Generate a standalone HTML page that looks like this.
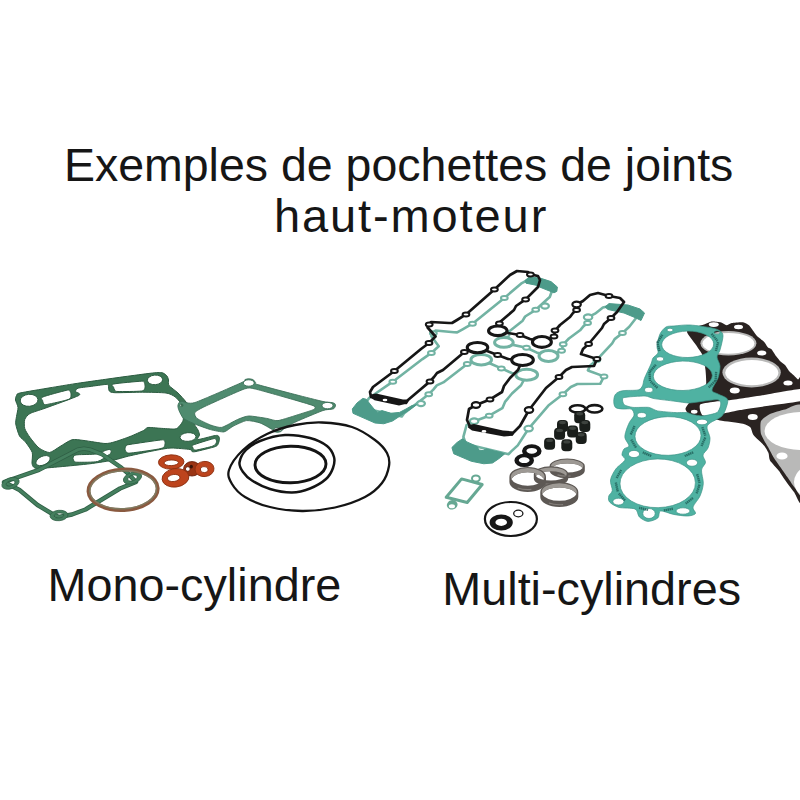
<!DOCTYPE html>
<html><head><meta charset="utf-8">
<style>
html,body{margin:0;padding:0;background:#fff;}
body{width:800px;height:800px;position:relative;overflow:hidden;font-family:"Liberation Sans",sans-serif;color:#161616;}
.t{position:absolute;white-space:nowrap;line-height:1;}
#l1{left:63.9px;top:141.6px;font-size:46.5px;}
#l2{left:273.9px;top:191.6px;font-size:47px;letter-spacing:1.9px;}
#m1{left:47.6px;top:561.5px;font-size:46.75px;}
#m2{left:442.3px;top:565.5px;font-size:46.75px;}
svg{position:absolute;left:0;top:0;}
</style></head><body>
<div class="t" id="l1">Exemples de pochettes de joints</div>
<div class="t" id="l2">haut-moteur</div>
<div class="t" id="m1">Mono-cylindre</div>
<div class="t" id="m2">Multi-cylindres</div>
<svg width="800" height="800" viewBox="0 0 800 800">
<g id="leftgrp">
<path d="M15.5,400 C15.32,398.6 15.97,396.32 16.5,395.5 C17.02,394.68 16.09,393.9 20,393 C23.91,392.1 43.58,388.88 50,387.8 C56.42,386.72 69.17,384.6 75,383.7 C80.83,382.8 94.17,380.93 100,380.1 C105.83,379.27 119.17,377.39 125,376.6 C130.83,375.81 146.15,373.77 150,373.3 C153.85,372.83 156.48,372.64 158,372.6 C159.52,372.56 161.95,372.6 163,373 C164.05,373.4 166.36,375.18 167,376 C167.64,376.82 168.27,378.89 168.5,380 C168.73,381.11 167.89,383.98 169,385.5 C170.11,387.02 176.02,391.07 178,393 C179.98,394.93 184.6,400.02 186,402 C187.4,403.98 189.18,407.67 190,410 C190.82,412.33 192.07,419.67 193,422 C193.93,424.33 197.24,428.48 198,430 C198.76,431.52 199.5,433.89 199.5,435 C199.5,436.11 196.31,439.41 198,439.5 C199.69,439.59 211.67,436.2 214,435.75 C216.33,435.3 217.36,435.28 218,435.6 C218.64,435.92 219.44,437.64 219.5,438.5 C219.56,439.36 218.97,442.07 218.5,443 C218.03,443.93 218.12,445.51 215.5,446.5 C212.88,447.49 198.74,450.92 196,451.5 C193.26,452.08 192.7,451.73 192,451.5 C191.3,451.27 192.33,449.91 190,449.5 C187.67,449.09 175.15,448.06 172,448 C168.85,447.94 166.15,448.48 163,449 C159.85,449.52 149.2,451.62 145,452.5 C140.8,453.38 130.62,455.62 127,456.5 C123.38,457.38 118.32,459.15 114,460 C109.68,460.85 96.3,462.96 90,463.75 C83.7,464.54 66.07,466.2 60,466.75 C53.93,467.3 41.09,468.47 38,468.5 C34.91,468.53 34.2,467.64 33.5,467 C32.8,466.36 32.15,464.69 32,463 C31.85,461.31 33.01,454.95 32.25,452.5 C31.49,450.05 26.99,443.93 25.5,442 C24.01,440.07 20.64,438.1 19.5,436 C18.36,433.9 16.1,426.27 15.75,424 C15.4,421.73 16.24,418.43 16.5,416.5 C16.76,414.57 18.12,409.43 18,407.5 C17.88,405.57 15.68,401.4 15.5,400 Z M78.75,395.5 C82.31,393.55 75.59,392.35 75.5,391.5 C75.41,390.65 76.31,388.78 78,388.2 C79.69,387.62 86.73,386.94 90,386.5 C93.27,386.06 103.86,384.55 106,384.4 C108.14,384.25 107.91,384.43 108.3,385.2 C108.69,385.97 108.52,390.12 109.3,391 C110.08,391.88 111.13,392.56 115,392.7 C118.87,392.84 136.55,392.16 142.5,392.2 C148.45,392.24 162.21,392.47 166,393 C169.79,393.53 173.25,395.52 175,396.75 C176.75,397.98 180.12,401.84 181,403.5 C181.88,405.16 182.24,409.07 182.5,411 C182.76,412.93 183.6,418.25 183.25,420 C182.9,421.75 180.46,424.95 179.5,426 C178.54,427.05 177.28,428.74 175,429 C172.72,429.26 163.15,428.43 160,428.25 C156.85,428.07 149.93,427.24 148,427.5 C146.07,427.76 145.6,429.45 143.5,430.5 C141.4,431.55 133.32,435.19 130,436.5 C126.67,437.81 117.92,440.93 115,441.75 C112.08,442.57 108.62,443.65 105,443.5 C101.38,443.35 87.85,440.94 84,440.5 C80.15,440.06 74.8,439.05 72,439.75 C69.2,440.45 62.62,445.01 60,446.5 C57.38,447.99 51.95,452.32 49.5,452.5 C47.05,452.68 41.27,449.75 39,448 C36.73,446.25 31.66,439.77 30,437.5 C28.34,435.23 25.36,430.6 24.75,428.5 C24.14,426.4 24.14,421.25 24.75,419.5 C25.36,417.75 27.64,414.81 30,413.5 C32.36,412.19 39.31,410.35 45,408.25 C50.69,406.15 75.19,397.45 78.75,395.5 Z M20.23,401.08 A8.9,6 -5 1 0 37.97,399.52 A8.9,6 -5 1 0 20.23,401.08 Z M42.8,397 C45.95,395.64 62.6,391.2 66.2,390.4 C69.8,389.6 69.16,390.44 69.8,391 C70.44,391.56 71.17,393.48 71,394.6 C70.83,395.72 71.66,398.09 68.5,399.4 C65.34,400.71 50.59,403.81 47.3,404.4 C44.01,404.99 44.43,404.31 43.8,403.8 C43.17,403.29 42.73,401.51 42.6,400.6 C42.47,399.69 39.65,398.36 42.8,397 Z M113.8,384 C117.52,383.19 137.43,381.39 141.5,381.2 C145.57,381.01 143.83,381.79 144.3,382.6 C144.77,383.41 145.37,386.18 145,387.3 C144.63,388.42 145.1,390.44 141.5,391 C137.9,391.56 121.56,391.59 118,391.5 C114.44,391.41 115.39,390.86 114.8,390.3 C114.21,389.74 113.73,388.14 113.6,387.3 C113.47,386.46 110.08,384.81 113.8,384 Z M147.42,380.43 A7.6,4.7 -4 1 0 162.58,379.37 A7.6,4.7 -4 1 0 147.42,380.43 Z M180.02,437.56 A8,4.3 -4 1 0 195.98,436.44 A8,4.3 -4 1 0 180.02,437.56 Z M125.3,447.5 C125.5,446.89 125.87,445.81 126.5,445.4 C127.13,444.99 125.47,445.12 130,444.4 C134.53,443.68 155.93,440.51 160.5,440 C165.07,439.49 163.7,440.07 164.3,440.6 C164.9,441.13 165.44,442.95 165,444 C164.56,445.05 165.53,447.3 161,448.5 C156.47,449.7 135.6,452.53 131,453 C126.4,453.47 127.3,452.4 126.5,452 C125.7,451.6 125.16,450.6 125,450 C124.84,449.4 125.1,448.11 125.3,447.5 Z M73,458.5 C72.96,457.75 73.33,456.3 74,455.8 C74.67,455.3 75.07,454.99 78,454.75 C80.93,454.51 92.53,454.5 96,454 C99.47,453.5 102.27,451.6 104,451 C105.73,450.4 108.03,449.53 109,449.5 C109.97,449.47 111.1,450.27 111.3,450.8 C111.5,451.33 110.94,452.9 110.5,453.5 C110.06,454.1 109.73,454.23 108,455.3 C106.27,456.37 101.5,460.57 97.5,461.5 C93.5,462.43 81.09,462.26 78,462.25 C74.91,462.24 74.97,461.9 74.3,461.4 C73.63,460.9 73.04,459.25 73,458.5 Z M36.11,463.81 A7.6,4.3 -25 1 0 49.89,457.39 A7.6,4.3 -25 1 0 36.11,463.81 Z M193.2,445 C195.92,443.91 209.96,439.52 213,438.8 C216.04,438.08 215.55,439.12 216,439.6 C216.45,440.08 216.8,441.55 216.4,442.4 C216,443.25 215.64,444.99 213,446 C210.36,447.01 199.19,449.57 196.6,450 C194.01,450.43 194.13,449.6 193.6,449.2 C193.07,448.8 192.65,447.56 192.6,447 C192.55,446.44 190.48,446.09 193.2,445 Z" fill="#3c7554" fill-rule="evenodd" stroke="#2c5c41" stroke-width="1"/>
<path d="M177.9,406 C177.9,405.21 178.55,403.05 179,402.6 C179.45,402.15 180.83,401.5 182.4,401.5 C183.97,401.5 188.79,404.51 194.75,402.6 C200.71,400.69 236.97,384.7 242,382.4 C247.03,380.1 244.32,379.96 245,379.6 C245.68,379.24 247.95,378.8 248.75,378.8 C249.55,378.8 252.32,379.24 253,379.6 C253.68,379.96 255.03,381.9 255.5,382.4 C255.97,382.9 253.7,383.37 257.75,384.6 C261.8,385.84 289.48,393.06 296,394.75 C302.52,396.44 319.4,400.71 323,401.5 C326.6,402.29 330.8,402.37 332,402.6 C333.2,402.83 334.66,403.46 335,403.8 C335.34,404.14 335.5,405.53 335.4,406 C335.3,406.47 334.45,408.16 334,408.5 C333.55,408.84 332,409.2 330.9,409.4 C329.8,409.6 326.49,409.26 323,410.5 C319.51,411.74 299.95,419.9 296,421.75 C292.05,423.6 285,428.02 283.5,429 C282,429.98 281.65,431.17 281,431.5 C280.35,431.83 277.75,432.32 277,432.3 C276.25,432.28 273.96,431.57 273.5,431.3 C273.04,431.03 273.75,430.44 272.4,429.6 C271.05,428.76 262.59,423.8 260,422.9 C257.41,422 249.2,420.27 246.5,420.6 C243.8,420.94 235.25,425.12 233,426.25 C230.75,427.38 226.25,431.56 224,431.9 C221.75,432.23 213.43,430.39 210.5,429.6 C207.57,428.81 197.45,425.12 194.75,424 C192.05,422.88 185.07,419.75 183.5,418.4 C181.93,417.05 179.56,411.74 179,410.5 C178.44,409.26 177.9,406.79 177.9,406 Z M194.75,412.75 C195.43,411.61 198.8,409.38 203.75,407 C208.7,404.62 239.07,390.79 244.25,389 C249.43,387.21 250.32,387.96 255.5,389.1 C260.68,390.24 290.15,398.71 296,400.4 C301.85,402.09 312.2,405.1 314,406 C315.8,406.9 315.35,408.61 314,409.4 C312.65,410.19 304.1,412.78 300.5,413.9 C296.9,415.02 281.38,420.15 278,420.6 C274.62,421.05 269.68,418.86 266.75,418.4 C263.82,417.94 251.68,415.89 248.75,416 C245.82,416.11 240.2,418.36 237.5,419.5 C234.8,420.64 224.45,426.85 221.75,427.4 C219.05,427.95 212.97,425.9 210.5,425 C208.03,424.1 198.57,419.62 197,418.4 C195.43,417.17 194.07,413.89 194.75,412.75 Z M243.25,383 A5.5,3.2 0 1 0 254.25,383 A5.5,3.2 0 1 0 243.25,383 Z M322,405.6 A5.5,3.2 0 1 0 333,405.6 A5.5,3.2 0 1 0 322,405.6 Z M179.9,405.3 A1.6,1.3 0 1 0 183.1,405.3 A1.6,1.3 0 1 0 179.9,405.3 Z M274,429.4 A4.2,1.9 0 1 0 282.4,429.4 A4.2,1.9 0 1 0 274,429.4 Z" fill="#4f8b6f" fill-rule="evenodd" stroke="#3c6f58" stroke-width="0.9"/>
<path d="M4,482 L39,469.9 L72,452.8 L78,449.6 L84,448.6 L90,449.6 L102,454.3 L121.5,467.8 L127,472.5 L136,482 L120,488.5 L85.5,509.5 L72,514.5 L59,517 L52.5,514 L37.5,505 L19.5,490 Z" fill="none" stroke="#2f5f45" stroke-width="4.4" stroke-linejoin="round"/>
<path d="M4,482 L39,469.9 L72,452.8 L78,449.6 L84,448.6 L90,449.6 L102,454.3 L121.5,467.8 L127,472.5 L136,482 L120,488.5 L85.5,509.5 L72,514.5 L59,517 L52.5,514 L37.5,505 L19.5,490 Z" fill="none" stroke="#447f5e" stroke-width="2.9" stroke-linejoin="round"/>
<path d="M2.04,486.38 A9,5.4 -20 1 0 18.96,480.22 A9,5.4 -20 1 0 2.04,486.38 Z M6.18,484.87 A4.6,2.4 -20 1 0 14.82,481.73 A4.6,2.4 -20 1 0 6.18,484.87 Z" fill="#447f5e" fill-rule="evenodd" stroke="#2f5f45" stroke-width="0.8"/>
<path d="M50.03,516.28 A9,5.2 -5 1 0 67.97,514.72 A9,5.2 -5 1 0 50.03,516.28 Z M54.22,515.92 A4.8,2.4 -5 1 0 63.78,515.08 A4.8,2.4 -5 1 0 54.22,515.92 Z" fill="#447f5e" fill-rule="evenodd" stroke="#2f5f45" stroke-width="0.8"/>
<path d="M123.57,481.25 A9.5,5.6 -20 1 0 141.43,474.75 A9.5,5.6 -20 1 0 123.57,481.25 Z M127.99,479.64 A4.8,2.7 -20 1 0 137.01,476.36 A4.8,2.7 -20 1 0 127.99,479.64 Z" fill="#447f5e" fill-rule="evenodd" stroke="#2f5f45" stroke-width="0.8"/>
<ellipse cx="123.1" cy="489.8" rx="34.6" ry="20.2" transform="rotate(-3 123.1 489.8)" fill="none" stroke="#8a5a40" stroke-width="3.9"/>
<ellipse cx="123.1" cy="489.8" rx="33.4" ry="19" transform="rotate(-3 123.1 489.8)" fill="none" stroke="#7c8066" stroke-width="1.5" opacity="0.85"/>
<path d="M183.6,468.8 A8.4,7.2 0 1 0 200.4,468.8 A8.4,7.2 0 1 0 183.6,468.8 Z M185.4,469 A2.4,2.3 0 1 0 190.2,469 A2.4,2.3 0 1 0 185.4,469 Z" fill="#9a3414" fill-rule="evenodd" stroke="#6a200c" stroke-width="0.9"/>
<ellipse cx="191.3" cy="466.6" rx="1.6" ry="1.9" fill="#3a1408"/>
<path d="M195.04,469.83 A9.5,7.4 -5 1 0 213.96,468.17 A9.5,7.4 -5 1 0 195.04,469.83 Z M200.41,469.93 A3.8,3 -5 1 0 207.99,469.27 A3.8,3 -5 1 0 200.41,469.93 Z" fill="#bd441d" fill-rule="evenodd" stroke="#8a2f10" stroke-width="0.9"/>
<path d="M158.46,462.44 A12.75,7 -2 1 0 183.94,461.56 A12.75,7 -2 1 0 158.46,462.44 Z M164,463.05 A7.2,2.8 -2 1 0 178.4,462.55 A7.2,2.8 -2 1 0 164,463.05 Z" fill="#bd441d" fill-rule="evenodd" stroke="#8a2f10" stroke-width="0.9"/>
<path d="M162.13,479.68 A13.5,9.2 -8 1 0 188.87,475.92 A13.5,9.2 -8 1 0 162.13,479.68 Z M167.46,478.88 A6.3,3.5 -8 1 0 179.94,477.12 A6.3,3.5 -8 1 0 167.46,478.88 Z" fill="#bd441d" fill-rule="evenodd" stroke="#8a2f10" stroke-width="0.9"/>
<path d="M229,470 C230.83,464.33 236.67,456 243,450 C249.33,444 258.33,438.17 267,434 C275.67,429.83 285.83,426.92 295,425 C304.17,423.08 312.5,422.17 322,422.5 C331.5,422.83 343.17,424.08 352,427 C360.83,429.92 369.17,435.67 375,440 C380.83,444.33 384.67,448.67 387,453 C389.33,457.33 389.83,461 389,466 C388.17,471 386,477.83 382,483 C378,488.17 372.83,492.92 365,497 C357.17,501.08 345.5,505.17 335,507.5 C324.5,509.83 312.83,511.08 302,511 C291.17,510.92 279.5,509.33 270,507 C260.5,504.67 251.33,500.83 245,497 C238.67,493.17 234.67,488.5 232,484 C229.33,479.5 227.17,475.67 229,470 Z" fill="none" stroke="#141414" stroke-width="2.3"/>
<path d="M239.5,462.5 C240,458.83 242.58,453.58 246,450 C249.42,446.42 253.5,443.5 260,441 C266.5,438.5 276.67,435.5 285,435 C293.33,434.5 303,436.17 310,438 C317,439.83 323,442.83 327,446 C331,449.17 333,453.33 334,457 C335,460.67 334.33,464.33 333,468 C331.67,471.67 329.83,475.58 326,479 C322.17,482.42 315.67,486.25 310,488.5 C304.33,490.75 298.67,492.42 292,492.5 C285.33,492.58 276.67,491 270,489 C263.33,487 256.5,483.33 252,480.5 C247.5,477.67 245.08,475 243,472 C240.92,469 239,466.17 239.5,462.5 Z" fill="none" stroke="#141414" stroke-width="2.5"/>
<ellipse cx="290.5" cy="464.5" rx="35.5" ry="18.3" transform="rotate(-1 290.5 464.5)" fill="none" stroke="#141414" stroke-width="2.9"/>
</g>
<g id="rightgrp">
<mask id="mT" maskUnits="userSpaceOnUse" x="340" y="250" width="320" height="230"><rect x="340" y="250" width="320" height="230" fill="#fff"/><ellipse cx="503.88" cy="342.43" rx="9.6" ry="5.2" fill="#000"/><ellipse cx="548.54" cy="355.99" rx="9.8" ry="5.8" fill="#000"/><ellipse cx="526.69" cy="374.68" rx="11.2" ry="5.8" fill="#000"/><ellipse cx="481.22" cy="359.69" rx="10.6" ry="5.5" fill="#000"/></mask>
<path d="M366.06,408.7 L365.51,403.3 L369.1,398.05 L392.82,381.68 L422.51,359.08 L431.38,352.94 L438.74,346.21 L431.41,336.26 L433.35,333.21 L435.47,330.49 L454.03,332.24 L457.14,332.35 L462.62,329.32 L472.48,323.65 L504.33,297.89 L521.88,283.03 L529.53,279 L540.83,280.48 L543.09,283.14 L550.82,285.15 L552.51,289.51 L549.76,296.95 L547.5,299.02 L535.72,309.78 L525.13,316.5 L522.67,320.72 L507.01,333.07 L506.23,334.76 L503.88,342.43 L508.12,343.87 L526.5,347.76 L536.48,352.43 L548.54,355.99 L561.59,350.75 L563.21,344.35 L568.93,338.53 L580.06,330.32 L583.56,326.15 L587.58,323.06 L588.1,317.16 L595.08,313.65 L602.91,307.47 L611.4,305.63 L622.51,309.26 L633.72,311.81 L637.49,316.25 L629.27,326.72 L622.47,332.93 L614.64,339.11 L612.18,343.32 L596.76,359.98 L590.47,365.14 L587.92,370.43 L604.03,376.39 L600.24,383.79 L577.34,384.04 L570.83,387.03 L562.9,394.28 L548.37,405.59 L528.63,428.56 L517.76,445.38 L510.97,451.6 L508.65,454.2 L465.88,444.05 L463.39,436.96 L466.52,425.24 L474.16,421.21 L489.21,415.73 L502.36,408.24 L505.01,401.88 L512,393.52 L521.06,385.24 L526.69,374.68 L511.75,373.06 L501.35,368.38 L490.75,363.69 L481.22,359.69 L467.22,363.92 L443.3,382.43 L436.79,385.42 L433.3,389.6 L428.73,394.17 L418.67,401.99 L404.14,413.3 L401.78,416.45 Z" fill="none" stroke="#72b3a3" stroke-width="2.6" stroke-linejoin="round" mask="url(#mT)"/>
<ellipse cx="503.88" cy="342.43" rx="9.3" ry="4.9" fill="none" stroke="#72b3a3" stroke-width="3"/>
<ellipse cx="548.54" cy="355.99" rx="9.5" ry="5.5" fill="none" stroke="#72b3a3" stroke-width="3"/>
<ellipse cx="526.69" cy="374.68" rx="10.9" ry="5.5" fill="none" stroke="#72b3a3" stroke-width="3"/>
<ellipse cx="481.22" cy="359.69" rx="10.3" ry="5.2" fill="none" stroke="#72b3a3" stroke-width="3"/>
<ellipse cx="392.82" cy="381.68" rx="3.4" ry="2" fill="#fff" stroke="#72b3a3" stroke-width="2"/>
<ellipse cx="431.38" cy="352.94" rx="3.4" ry="2" fill="#fff" stroke="#72b3a3" stroke-width="2"/>
<ellipse cx="433.35" cy="333.21" rx="3.4" ry="2" fill="#fff" stroke="#72b3a3" stroke-width="2"/>
<ellipse cx="472.48" cy="323.65" rx="3.4" ry="2" fill="#fff" stroke="#72b3a3" stroke-width="2"/>
<ellipse cx="504.33" cy="297.89" rx="3.4" ry="2" fill="#fff" stroke="#72b3a3" stroke-width="2"/>
<ellipse cx="543.09" cy="283.14" rx="3.4" ry="2" fill="#fff" stroke="#72b3a3" stroke-width="2"/>
<ellipse cx="535.72" cy="309.78" rx="3.4" ry="2" fill="#fff" stroke="#72b3a3" stroke-width="2"/>
<ellipse cx="506.23" cy="334.76" rx="3.4" ry="2" fill="#fff" stroke="#72b3a3" stroke-width="2"/>
<ellipse cx="526.5" cy="347.76" rx="3.4" ry="2" fill="#fff" stroke="#72b3a3" stroke-width="2"/>
<ellipse cx="561.59" cy="350.75" rx="3.4" ry="2" fill="#fff" stroke="#72b3a3" stroke-width="2"/>
<ellipse cx="563.21" cy="344.35" rx="3.4" ry="2" fill="#fff" stroke="#72b3a3" stroke-width="2"/>
<ellipse cx="587.58" cy="323.06" rx="3.4" ry="2" fill="#fff" stroke="#72b3a3" stroke-width="2"/>
<ellipse cx="622.51" cy="309.26" rx="3.4" ry="2" fill="#fff" stroke="#72b3a3" stroke-width="2"/>
<ellipse cx="622.47" cy="332.93" rx="3.4" ry="2" fill="#fff" stroke="#72b3a3" stroke-width="2"/>
<ellipse cx="596.76" cy="359.98" rx="3.4" ry="2" fill="#fff" stroke="#72b3a3" stroke-width="2"/>
<ellipse cx="604.03" cy="376.39" rx="3.4" ry="2" fill="#fff" stroke="#72b3a3" stroke-width="2"/>
<ellipse cx="562.9" cy="394.28" rx="3.4" ry="2" fill="#fff" stroke="#72b3a3" stroke-width="2"/>
<ellipse cx="489.21" cy="415.73" rx="3.4" ry="2" fill="#fff" stroke="#72b3a3" stroke-width="2"/>
<ellipse cx="501.35" cy="368.38" rx="3.4" ry="2" fill="#fff" stroke="#72b3a3" stroke-width="2"/>
<ellipse cx="467.22" cy="363.92" rx="3.4" ry="2" fill="#fff" stroke="#72b3a3" stroke-width="2"/>
<ellipse cx="428.73" cy="394.17" rx="3.4" ry="2" fill="#fff" stroke="#72b3a3" stroke-width="2"/>
<ellipse cx="588.1" cy="317.16" rx="4.2" ry="2.8" fill="#fff" stroke="#72b3a3" stroke-width="2.2"/>
<ellipse cx="528.63" cy="428.56" rx="4.2" ry="2.8" fill="#fff" stroke="#72b3a3" stroke-width="2.2"/>
<ellipse cx="474.16" cy="421.21" rx="4.2" ry="2.8" fill="#fff" stroke="#72b3a3" stroke-width="2.2"/>
<ellipse cx="421" cy="403.6" rx="3.9" ry="2.6" fill="#fff" stroke="#72b3a3" stroke-width="2.2"/>
<ellipse cx="545" cy="306" rx="3.9" ry="2.6" fill="#fff" stroke="#72b3a3" stroke-width="2.2"/>
<path d="M352.3,409 L357,403 L362.75,398.4 L366.25,399.25 L370,404 L374,409 L377.6,412.4 L382,410.6 L390.75,413.25 L399.5,412.4 L406,409 L412,405.5 L416.5,404.8 L410,409.5 L400,416 L392.5,421 L383.75,423.75 L375,423 L353,413.3 Z" fill="#4d9b8a" stroke="#4d9b8a" stroke-width="1" stroke-linejoin="round"/>
<path d="M451.9,447.5 L457,442.5 L462.5,438.75 L466.9,441.9 L473.75,445 L477.5,446.9 L478.75,450 L483,450.6 L486.25,448.75 L495,451.25 L501.25,452.5 L504.5,454 L498.75,458.75 L492.5,463 L483.75,463.75 L471.25,461.25 L453.75,453.75 Z" fill="#4d9b8a" stroke="#4d9b8a" stroke-width="1" stroke-linejoin="round"/>
<path d="M525,280.6 L529,277 L540,278 L551,281.6 L557.4,287 L556.8,291.4 L554,292.8 L549,290.8 L540,287.2 L536,285.2 L526,283.2 Z" fill="#4d9b8a" stroke="#4d9b8a" stroke-width="1" stroke-linejoin="round"/>
<path d="M605,307 L609,303.6 L628,305 L640,309 L644.5,313 L641,320.5 L636,318 L624,313 L608,309.5 Z" fill="#4d9b8a" stroke="#4d9b8a" stroke-width="1" stroke-linejoin="round"/>
<mask id="mK" maskUnits="userSpaceOnUse" x="340" y="250" width="320" height="230"><rect x="340" y="250" width="320" height="230" fill="#fff"/><ellipse cx="497.8" cy="330.8" rx="9.6" ry="5.2" fill="#000"/><ellipse cx="541.9" cy="341.9" rx="9.8" ry="5.8" fill="#000"/><ellipse cx="522.5" cy="360" rx="11.2" ry="5.8" fill="#000"/><ellipse cx="477.5" cy="347.6" rx="10.6" ry="5.5" fill="#000"/></mask>
<path d="M371,397 L370,392 L373,387 L394.4,371 L421,349 L429,343 L435.5,336.5 L427.6,327.5 L429.2,324.6 L431,322 L449,323 L452,323 L457,320 L466,314.4 L494.4,289.4 L510,275 L517,271 L528,272 L530.4,274.4 L538,276 L540,280 L538,287 L536,289 L525.6,299.4 L516,306 L514,310 L500,322 L499.4,323.6 L497.8,330.8 L502,332 L520,335 L530,339 L541.9,341.9 L554,336.6 L555,330.6 L560,325 L570,317 L573,313 L576.6,310 L576.6,304.5 L583,301 L590,295 L598,293 L609,296 L620,298 L624,302 L617,312 L611,318 L604,324 L602,328 L588.6,344 L583,349 L581,354 L597,359 L594,366 L572,367 L566,370 L559,377 L546,388 L529,410 L520,426 L514,432 L512,434.5 L470,426.5 L467,420 L469,409 L476,405 L490,399.4 L502,392 L504,386 L510,378 L518,370 L522.5,360 L508,359 L497.6,355 L487,351 L477.5,347.6 L464.4,352 L443,370 L437,373 L434,377 L430,381.4 L421,389 L408,400 L406,403 Z" fill="none" stroke="#161616" stroke-width="2.7" stroke-linejoin="round" mask="url(#mK)"/>
<ellipse cx="497.8" cy="330.8" rx="9.25" ry="4.85" fill="none" stroke="#161616" stroke-width="3.1"/>
<ellipse cx="541.9" cy="341.9" rx="9.45" ry="5.45" fill="none" stroke="#161616" stroke-width="3.1"/>
<ellipse cx="522.5" cy="360" rx="10.85" ry="5.45" fill="none" stroke="#161616" stroke-width="3.1"/>
<ellipse cx="477.5" cy="347.6" rx="10.25" ry="5.15" fill="none" stroke="#161616" stroke-width="3.1"/>
<ellipse cx="394.4" cy="371" rx="3.4" ry="2" fill="#fff" stroke="#161616" stroke-width="2"/>
<ellipse cx="429" cy="343" rx="3.4" ry="2" fill="#fff" stroke="#161616" stroke-width="2"/>
<ellipse cx="429.2" cy="324.6" rx="3.4" ry="2" fill="#fff" stroke="#161616" stroke-width="2"/>
<ellipse cx="466" cy="314.4" rx="3.4" ry="2" fill="#fff" stroke="#161616" stroke-width="2"/>
<ellipse cx="494.4" cy="289.4" rx="3.4" ry="2" fill="#fff" stroke="#161616" stroke-width="2"/>
<ellipse cx="530.4" cy="274.4" rx="3.4" ry="2" fill="#fff" stroke="#161616" stroke-width="2"/>
<ellipse cx="525.6" cy="299.4" rx="3.4" ry="2" fill="#fff" stroke="#161616" stroke-width="2"/>
<ellipse cx="499.4" cy="323.6" rx="3.4" ry="2" fill="#fff" stroke="#161616" stroke-width="2"/>
<ellipse cx="520" cy="335" rx="3.4" ry="2" fill="#fff" stroke="#161616" stroke-width="2"/>
<ellipse cx="554" cy="336.6" rx="3.4" ry="2" fill="#fff" stroke="#161616" stroke-width="2"/>
<ellipse cx="555" cy="330.6" rx="3.4" ry="2" fill="#fff" stroke="#161616" stroke-width="2"/>
<ellipse cx="576.6" cy="310" rx="3.4" ry="2" fill="#fff" stroke="#161616" stroke-width="2"/>
<ellipse cx="609" cy="296" rx="3.4" ry="2" fill="#fff" stroke="#161616" stroke-width="2"/>
<ellipse cx="611" cy="318" rx="3.4" ry="2" fill="#fff" stroke="#161616" stroke-width="2"/>
<ellipse cx="588.6" cy="344" rx="3.4" ry="2" fill="#fff" stroke="#161616" stroke-width="2"/>
<ellipse cx="597" cy="359" rx="3.4" ry="2" fill="#fff" stroke="#161616" stroke-width="2"/>
<ellipse cx="559" cy="377" rx="3.4" ry="2" fill="#fff" stroke="#161616" stroke-width="2"/>
<ellipse cx="490" cy="399.4" rx="3.4" ry="2" fill="#fff" stroke="#161616" stroke-width="2"/>
<ellipse cx="497.6" cy="355" rx="3.4" ry="2" fill="#fff" stroke="#161616" stroke-width="2"/>
<ellipse cx="464.4" cy="352" rx="3.4" ry="2" fill="#fff" stroke="#161616" stroke-width="2"/>
<ellipse cx="430" cy="381.4" rx="3.4" ry="2" fill="#fff" stroke="#161616" stroke-width="2"/>
<ellipse cx="576.6" cy="304.5" rx="4.2" ry="2.8" fill="#fff" stroke="#161616" stroke-width="2.2"/>
<ellipse cx="529" cy="410" rx="4.2" ry="2.8" fill="#fff" stroke="#161616" stroke-width="2.2"/>
<ellipse cx="476" cy="405" rx="4.2" ry="2.8" fill="#fff" stroke="#161616" stroke-width="2.2"/>
<path d="M371,394.5 L376,393.6 L403,399.6 L408.5,399.4 L406.5,403.8 L399,405.4 L374.5,400.3 L370.5,397.5 Z" fill="#161616"/>
<ellipse cx="385" cy="400" rx="2.4" ry="1.3" fill="#fff"/>
<path d="M468.5,425 L474,424 L503,430.5 L514.5,431.5 L512.5,435.6 L504,436.6 L472,430.5 L468,427.5 Z" fill="#161616"/>
<ellipse cx="484" cy="431.4" rx="2.4" ry="1.3" fill="#fff"/>
<path d="M687,332 C686.8,330.25 692.23,328.28 694,327.5 C695.77,326.72 703,324.8 704.75,324.2 C706.5,323.6 709.92,321.69 711.5,321.5 C713.08,321.31 719,321.88 720.5,322.25 C722,322.62 725.38,325.18 726.5,325.25 C727.62,325.32 730.1,323.3 731.75,323 C733.4,322.7 741.27,322.02 743,322.25 C744.73,322.48 747.95,324.35 749,325.25 C750.05,326.15 752.65,330.12 753.5,331.25 C754.35,332.38 756.45,335.45 757.5,336.5 C758.55,337.55 762.95,340.65 764,341.75 C765.05,342.85 767.25,346.75 768,347.5 C768.75,348.25 770.7,348.4 771.5,349.25 C772.3,350.1 775.1,354.77 776,356 C776.9,357.23 779.6,360.6 780.5,361.5 C781.4,362.4 784.1,364 785,365 C785.9,366 788.6,370.45 789.5,371.5 C790.4,372.55 793.15,374.7 794,375.5 C794.85,376.3 797.1,378.9 798,379.5 C798.9,380.1 802.5,369.35 803,381.5 C803.5,393.65 803.9,489.95 803,501 C802.1,512.05 795.8,494.1 794,492 C792.2,489.9 786.5,482.1 785,480 C783.5,477.9 780.5,472.95 779,471 C777.5,469.05 771.05,462.3 770,460.5 C768.95,458.7 769.1,454.5 768.5,453 C767.9,451.5 765.5,447.3 764,445.5 C762.5,443.7 754.85,436.8 753.5,435 C752.15,433.2 751.55,428.62 750.5,427.5 C749.45,426.38 746.05,424.45 743,423.75 C739.95,423.05 723.3,421.1 720,420.5 C716.7,419.9 712.2,418.01 710,417.8 C707.8,417.59 700,418.63 698,418.4 C696,418.17 691.25,416.44 690,415.5 C688.75,414.56 685.5,410.35 685.5,409 C685.5,407.65 688.55,403.25 690,402 C691.45,400.75 698.4,398.2 700,396.5 C701.6,394.8 705.45,387.65 706,385 C706.55,382.35 705.8,372.9 705.5,370 C705.2,367.1 703.95,358.5 703,356 C702.05,353.5 697.6,347.4 696,345 C694.4,342.6 687.2,333.75 687,332 Z M700.5,404.2 C701.83,403.49 713.58,401.83 716,401.5 C718.42,401.17 727.12,400.54 729.5,400.25 C731.88,399.96 741.62,398.44 744.5,398 C747.38,397.56 760.62,395.56 764,395 C767.38,394.44 781.75,391.75 785,391.25 C788.25,390.75 801.5,388.23 803,389 C804.5,389.77 805.75,399.12 803,400.5 C800.25,401.88 775.25,404.71 770,405.5 C764.75,406.29 743.38,409.44 740,410 C736.62,410.56 731.58,411.83 729.5,412.25 C727.42,412.67 717.21,414.72 715,415 C712.79,415.28 704.25,416.02 703,415.6 C701.75,415.18 700.21,410.95 700,410 C699.79,409.05 699.17,404.91 700.5,404.2 Z" fill="#2a2321" fill-rule="evenodd"/>
<ellipse cx="728.4" cy="343.25" rx="28" ry="12.3" fill="#b9b9b8"/>
<ellipse cx="728.4" cy="343.4" rx="26" ry="10.4" fill="#fff"/>
<ellipse cx="751.6" cy="372.5" rx="29.2" ry="15" fill="#b9b9b8"/>
<ellipse cx="751.8" cy="372.7" rx="26.6" ry="12.6" fill="#fff"/>
<path d="M761,421 C761.9,419 767.6,415.15 770,414 C772.4,412.85 781.7,410.1 785,409.5 C788.3,408.9 801.2,399.55 803,408 C804.8,416.45 803.8,486 803,494 C802.2,502 796.5,489.6 795,488 C793.5,486.4 789.4,480 788,478 C786.6,476 782.4,470 781,468 C779.6,466 775.3,460.1 774,458 C772.7,455.9 769.3,449.4 768,447 C766.7,444.6 761.7,436.6 761,434 C760.3,431.4 760.1,423 761,421 Z" fill="#b9b9b8"/>
<ellipse cx="802" cy="431" rx="37.5" ry="19" fill="#fff"/>
<ellipse cx="826" cy="482" rx="32" ry="21" fill="#fff"/>
<ellipse cx="713.75" cy="324.6" rx="5" ry="2.4" fill="#fff"/>
<ellipse cx="738.5" cy="327" rx="4.5" ry="2.2" fill="#fff"/>
<ellipse cx="761.75" cy="353" rx="4.6" ry="2.5" fill="#fff"/>
<ellipse cx="788" cy="383" rx="4.6" ry="2.5" fill="#fff"/>
<ellipse cx="734.75" cy="390.5" rx="5" ry="2.9" fill="#fff"/>
<ellipse cx="752.75" cy="417" rx="5" ry="2.9" fill="#fff"/>
<ellipse cx="782" cy="456" rx="5.6" ry="3.6" fill="#fff"/>
<path d="M666,327 C668.1,325.8 670.4,326.3 674,326 C677.6,325.7 684.3,324.7 690,325 C695.7,325.3 707.5,327.1 712,328 C716.5,328.9 718.35,329.8 720,331 C721.65,332.2 723,333.15 723,336 C723,338.85 720.9,346.85 720,350 C719.1,353.15 717,354.6 717,357 C717,359.4 719.85,362.85 720,366 C720.15,369.15 719.2,374.4 718,378 C716.8,381.6 712,387.6 712,390 C712,392.4 715.75,392.73 718,394 C720.25,395.27 725.65,396.85 727,398.5 C728.35,400.15 727.75,402.38 727,405 C726.25,407.62 724.55,413.3 722,416 C719.45,418.7 712.25,421.2 710,423 C707.75,424.8 707,425.75 707,428 C707,430.25 709.85,435 710,438 C710.15,441 709.05,445.45 708,448 C706.95,450.55 703.38,452.82 703,455 C702.62,457.18 705.73,460.25 705.5,462.5 C705.27,464.75 701.83,466.85 701.5,470 C701.17,473.15 703.52,479.6 703.3,483.5 C703.07,487.4 701.54,492.48 700,496 C698.46,499.52 693.67,504.38 693,507 C692.33,509.62 696.33,512.15 695.5,513.5 C694.67,514.85 690.8,515.87 687.5,516 C684.2,516.13 677.53,515.15 673.5,514.4 C669.47,513.65 662.96,510.46 660.6,511 C658.25,511.54 659.69,516.44 657.8,518 C655.91,519.56 650.76,521.55 648,521.4 C645.24,521.25 641.35,518.86 639.4,517 C637.45,515.14 638.06,510.44 635,509 C631.94,507.56 622.81,508.45 619,507.4 C615.19,506.35 611.13,503.71 609.6,502 C608.07,500.29 608.39,497.73 608.8,496 C609.2,494.27 612.04,492.9 612.3,490.5 C612.55,488.1 609.98,483.23 610.5,480 C611.02,476.77 613.62,472 615.8,469 C617.97,466 624.07,462.1 625,460 C625.93,457.9 622.15,456.65 622,455 C621.85,453.35 622.95,450.35 624,449 C625.05,447.65 628.85,447.65 629,446 C629.15,444.35 625.45,440.25 625,438 C624.55,435.75 625.33,433.36 626,431 C626.67,428.64 628.3,424.61 629.5,422.25 C630.7,419.89 633.7,417.21 634,415.25 C634.3,413.29 633.23,410.14 631.5,409.2 C629.77,408.26 624.9,409.27 622.5,409 C620.1,408.73 616.81,408.56 615.5,407.4 C614.19,406.24 613.75,403.22 613.75,401.25 C613.75,399.28 614.19,395.82 615.5,394.25 C616.81,392.68 619.09,391.4 622.5,390.75 C625.91,390.1 635.24,390.69 638.25,389.9 C641.26,389.11 641.68,387.21 642.6,385.5 C643.52,383.79 643.14,381.73 644.4,378.5 C645.66,375.27 649.71,367.07 651,364 C652.29,360.93 651.95,359.65 653,358 C654.05,356.35 657.4,354.8 658,353 C658.6,351.2 656.7,348.85 657,346 C657.3,343.15 658.65,336.85 660,334 C661.35,331.15 663.9,328.2 666,327 Z M661.7,344.75 A26,13.2 -1 1 0 713.7,343.85 A26,13.2 -1 1 0 661.7,344.75 Z M653.3,376.31 A29.5,14.7 -1 1 0 712.3,375.29 A29.5,14.7 -1 1 0 653.3,376.31 Z M635.01,436.58 A33,19 -1 1 0 700.99,435.42 A33,19 -1 1 0 635.01,436.58 Z M620.01,483.96 A37.7,24 -1 1 0 695.39,482.64 A37.7,24 -1 1 0 620.01,483.96 Z M623.4,397.75 C625.48,396.88 641.94,395.92 645,396 C648.06,396.08 651,398.08 654,398.6 C657,399.12 671.5,400.81 675,401.25 C678.5,401.69 686.2,403 689,403 C691.8,403 700.2,401.6 703,401.25 C705.8,400.9 715.25,399.43 717,399.5 C718.75,399.57 720.15,401.35 720.5,402 C720.85,402.65 720.85,404.94 720.5,406 C720.15,407.06 718.75,411.6 717,412.6 C715.25,413.6 705.45,415.81 703,416 C700.55,416.19 694.1,414.84 692.5,414.5 C690.9,414.16 688.75,412.79 687,412.6 C685.25,412.41 677.95,412.77 675,412.6 C672.05,412.43 660.12,411.42 657.5,410.9 C654.88,410.38 651.2,407.75 648.75,407.4 C646.3,407.05 635.45,407.66 633,407.4 C630.55,407.13 625.21,405.71 624.25,404.75 C623.29,403.79 621.32,398.62 623.4,397.75 Z M667,330 A3,1.8 0 1 0 673,330 A3,1.8 0 1 0 667,330 Z M714,332.5 A3,1.8 0 1 0 720,332.5 A3,1.8 0 1 0 714,332.5 Z M656.2,359 A3.8,2.3 0 1 0 663.8,359 A3.8,2.3 0 1 0 656.2,359 Z M644.55,389.9 A4.2,2.6 0 1 0 652.95,389.9 A4.2,2.6 0 1 0 644.55,389.9 Z M637.15,415.25 A4.6,2.7 0 1 0 646.35,415.25 A4.6,2.7 0 1 0 637.15,415.25 Z M696.4,422 A5.6,2.8 0 1 0 707.6,422 A5.6,2.8 0 1 0 696.4,422 Z M628.4,454 A5.6,3.6 0 1 0 639.6,454 A5.6,3.6 0 1 0 628.4,454 Z M686.4,462.75 A5.6,3.5 0 1 0 697.6,462.75 A5.6,3.5 0 1 0 686.4,462.75 Z M612.8,501.6 A5.6,3.4 0 1 0 624,501.6 A5.6,3.4 0 1 0 612.8,501.6 Z M642.8,513.5 A6.2,5 0 1 0 655.2,513.5 A6.2,5 0 1 0 642.8,513.5 Z M676,511 A7,3.2 0 1 0 690,511 A7,3.2 0 1 0 676,511 Z" fill="#4fb2a2" fill-rule="evenodd" stroke="#3c9486" stroke-width="0.7"/>
<ellipse cx="694.25" cy="411.75" rx="3.3" ry="1.9" fill="#fff"/>
<path d="M-4.6,0 L4.6,0" transform="translate(658.39 346.58) rotate(-104.23)" stroke="#1f5f58" stroke-width="2.4" stroke-dasharray="1.5 0.5" opacity="0.8"/>
<path d="M-4.6,0 L4.6,0" transform="translate(659.89 338.69) rotate(-56.7)" stroke="#1f5f58" stroke-width="2.4" stroke-dasharray="1.5 0.5" opacity="0.8"/>
<path d="M-4.6,0 L4.6,0" transform="translate(717.01 346.58) rotate(104.23)" stroke="#1f5f58" stroke-width="2.4" stroke-dasharray="1.5 0.5" opacity="0.8"/>
<path d="M-4.6,0 L4.6,0" transform="translate(714.53 337.37) rotate(49.92)" stroke="#1f5f58" stroke-width="2.4" stroke-dasharray="1.5 0.5" opacity="0.8"/>
<path d="M-4.6,0 L4.6,0" transform="translate(649.72 376.42) rotate(-93.69)" stroke="#1f5f58" stroke-width="2.4" stroke-dasharray="1.5 0.5" opacity="0.8"/>
<path d="M-4.6,0 L4.6,0" transform="translate(652.8 368.24) rotate(-49.23)" stroke="#1f5f58" stroke-width="2.4" stroke-dasharray="1.5 0.5" opacity="0.8"/>
<path d="M-4.6,0 L4.6,0" transform="translate(654.13 384.75) rotate(-136.87)" stroke="#1f5f58" stroke-width="2.4" stroke-dasharray="1.5 0.5" opacity="0.8"/>
<path d="M-4.6,0 L4.6,0" transform="translate(715.88 376.42) rotate(93.69)" stroke="#1f5f58" stroke-width="2.4" stroke-dasharray="1.5 0.5" opacity="0.8"/>
<path d="M-4.6,0 L4.6,0" transform="translate(712.03 384.2) rotate(134.52)" stroke="#1f5f58" stroke-width="2.4" stroke-dasharray="1.5 0.5" opacity="0.8"/>
<path d="M-4.6,0 L4.6,0" transform="translate(633.61 443.59) rotate(-120.97)" stroke="#1f5f58" stroke-width="2.4" stroke-dasharray="1.5 0.5" opacity="0.8"/>
<path d="M-4.6,0 L4.6,0" transform="translate(632.65 430.25) rotate(-66.17)" stroke="#1f5f58" stroke-width="2.4" stroke-dasharray="1.5 0.5" opacity="0.8"/>
<path d="M-4.6,0 L4.6,0" transform="translate(703.8 431.38) rotate(70.69)" stroke="#1f5f58" stroke-width="2.4" stroke-dasharray="1.5 0.5" opacity="0.8"/>
<path d="M-4.6,0 L4.6,0" transform="translate(703.35 441.75) rotate(113.83)" stroke="#1f5f58" stroke-width="2.4" stroke-dasharray="1.5 0.5" opacity="0.8"/>
<path d="M-4.6,0 L4.6,0" transform="translate(688.99 454.19) rotate(156.99)" stroke="#1f5f58" stroke-width="2.4" stroke-dasharray="1.5 0.5" opacity="0.8"/>
<path d="M-4.6,0 L4.6,0" transform="translate(647.01 454.19) rotate(-156.99)" stroke="#1f5f58" stroke-width="2.4" stroke-dasharray="1.5 0.5" opacity="0.8"/>
<path d="M-4.6,0 L4.6,0" transform="translate(621.93 496.9) rotate(-131.24)" stroke="#1f5f58" stroke-width="2.4" stroke-dasharray="1.5 0.5" opacity="0.8"/>
<path d="M-4.6,0 L4.6,0" transform="translate(616.8 487.09) rotate(-102.05)" stroke="#1f5f58" stroke-width="2.4" stroke-dasharray="1.5 0.5" opacity="0.8"/>
<path d="M-4.6,0 L4.6,0" transform="translate(618.89 474) rotate(-61.07)" stroke="#1f5f58" stroke-width="2.4" stroke-dasharray="1.5 0.5" opacity="0.8"/>
<path d="M-4.6,0 L4.6,0" transform="translate(698.37 478.58) rotate(75.01)" stroke="#1f5f58" stroke-width="2.4" stroke-dasharray="1.5 0.5" opacity="0.8"/>
<path d="M-4.6,0 L4.6,0" transform="translate(698.1 488.96) rotate(107.89)" stroke="#1f5f58" stroke-width="2.4" stroke-dasharray="1.5 0.5" opacity="0.8"/>
<path d="M-4.6,0 L4.6,0" transform="translate(689.34 500.78) rotate(141.87)" stroke="#1f5f58" stroke-width="2.4" stroke-dasharray="1.5 0.5" opacity="0.8"/>
<path d="M-4.6,0 L4.6,0" transform="translate(668.39 509.57) rotate(169.99)" stroke="#1f5f58" stroke-width="2.4" stroke-dasharray="1.5 0.5" opacity="0.8"/>
<path d="M-4.6,0 L4.6,0" transform="translate(643.57 508.86) rotate(-166.52)" stroke="#1f5f58" stroke-width="2.4" stroke-dasharray="1.5 0.5" opacity="0.8"/>
<ellipse cx="475.9" cy="478.5" rx="3.9" ry="3.1" fill="#fff" stroke="#66a893" stroke-width="2"/>
<path d="M446.98,506.2 A5.4,4.6 -15 1 0 457.42,503.4 A5.4,4.6 -15 1 0 446.98,506.2 Z M448.8,506.2 A3.1,2 0 1 0 455,506.2 A3.1,2 0 1 0 448.8,506.2 Z" fill="#66a893" fill-rule="evenodd"/>
<path d="M446.2,497.25 L461.6,478.9 L482.2,484.5 L467.2,502.5 Z" fill="#fff" stroke="#66a893" stroke-width="3" stroke-linejoin="round"/>
<ellipse cx="510.9" cy="519" rx="26" ry="17" fill="none" stroke="#161616" stroke-width="2.2"/>
<path d="M489.6,522.5 A11.6,8 0 1 0 512.8,522.5 A11.6,8 0 1 0 489.6,522.5 Z M495.4,522.3 A5.8,3.6 0 1 0 507,522.3 A5.8,3.6 0 1 0 495.4,522.3 Z" fill="#161616" fill-rule="evenodd"/>
<ellipse cx="518.3" cy="513.5" rx="4.6" ry="3.3" fill="none" stroke="#161616" stroke-width="1.3"/>
<path d="M522,451 A9.8,6.7 0 1 0 541.6,451 A9.8,6.7 0 1 0 522,451 Z M526.4,450.8 A5.4,2.9 0 1 0 537.2,450.8 A5.4,2.9 0 1 0 526.4,450.8 Z" fill="#161616" fill-rule="evenodd"/>
<path d="M514.4,460.4 A9.8,6.7 0 1 0 534,460.4 A9.8,6.7 0 1 0 514.4,460.4 Z M518.8,460.2 A5.4,2.9 0 1 0 529.6,460.2 A5.4,2.9 0 1 0 518.8,460.2 Z" fill="#161616" fill-rule="evenodd"/>
<ellipse cx="577.6" cy="408.8" rx="7.8" ry="3.6" fill="none" stroke="#161616" stroke-width="2.6"/>
<ellipse cx="594.6" cy="408.8" rx="7.8" ry="3.7" fill="none" stroke="#161616" stroke-width="2.6"/>
<path d="M549.6,466 A17.6,7.6 0 0 1 584.8,466 L584.8,470.6 A17.6,7.6 0 0 1 549.6,470.6 Z M551.77,467.95 A16.2,6.4 0 0 1 582.63,467.95 A16.2,6.4 0 0 1 551.77,467.95 Z" fill="#5d5854" fill-rule="evenodd"/>
<path d="M551,466 A16.2,6.4 0 0 1 583.4,466 L582.63,467.95 A16.2,6.4 0 0 0 551.77,467.95 Z" fill="#9d9994"/>
<path d="M557.52,474.84 A17.6,7.6 0 0 0 570.72,475.98" fill="none" stroke="#8f8a85" stroke-width="1.2" opacity="0.8"/>
<path d="M533.8,474 A17.2,7.8 0 0 1 568.2,474 L568.2,478.5 A17.2,7.8 0 0 1 533.8,478.5 Z M535.88,475.91 A15.8,6.6 0 0 1 566.12,475.91 A15.8,6.6 0 0 1 535.88,475.91 Z" fill="#5d5854" fill-rule="evenodd"/>
<path d="M535.2,474 A15.8,6.6 0 0 1 566.8,474 L566.12,475.91 A15.8,6.6 0 0 0 535.88,475.91 Z" fill="#9d9994"/>
<path d="M541.54,482.95 A17.2,7.8 0 0 0 554.44,484.12" fill="none" stroke="#8f8a85" stroke-width="1.2" opacity="0.8"/>
<path d="M509.4,476.9 A18.3,10 0 0 1 546,476.9 L546,481.9 A18.3,10 0 0 1 509.4,481.9 Z M511.3,479.02 A16.9,8.8 0 0 1 544.1,479.02 A16.9,8.8 0 0 1 511.3,479.02 Z" fill="#5d5854" fill-rule="evenodd"/>
<path d="M510.8,476.9 A16.9,8.8 0 0 1 544.6,476.9 L544.1,479.02 A16.9,8.8 0 0 0 511.3,479.02 Z" fill="#9d9994"/>
<path d="M517.63,487.95 A18.3,10 0 0 0 531.36,489.45" fill="none" stroke="#8f8a85" stroke-width="1.2" opacity="0.8"/>
<path d="M540.3,492 A19,10 0 0 1 578.3,492 L578.3,497 A19,10 0 0 1 540.3,497 Z M542.22,494.12 A17.6,8.8 0 0 1 576.38,494.12 A17.6,8.8 0 0 1 542.22,494.12 Z" fill="#5d5854" fill-rule="evenodd"/>
<path d="M541.7,492 A17.6,8.8 0 0 1 576.9,492 L576.38,494.12 A17.6,8.8 0 0 0 542.22,494.12 Z" fill="#9d9994"/>
<path d="M548.85,503.05 A19,10 0 0 0 563.1,504.55" fill="none" stroke="#8f8a85" stroke-width="1.2" opacity="0.8"/>
<rect x="574.2" y="411.2" width="11" height="12" rx="4" fill="#1a1e1b"/>
<ellipse cx="579.7" cy="413.8" rx="3.4" ry="1.7" fill="#3d423e"/>
<rect x="557" y="419.9" width="11" height="12" rx="4" fill="#1a1e1b"/>
<ellipse cx="562.5" cy="422.5" rx="3.4" ry="1.7" fill="#3d423e"/>
<rect x="579.3" y="419.9" width="11" height="12" rx="4" fill="#1a1e1b"/>
<ellipse cx="584.8" cy="422.5" rx="3.4" ry="1.7" fill="#3d423e"/>
<rect x="567.1" y="425.6" width="11" height="12" rx="4" fill="#1a1e1b"/>
<ellipse cx="572.6" cy="428.2" rx="3.4" ry="1.7" fill="#3d423e"/>
<rect x="554.1" y="427.8" width="11" height="12" rx="4" fill="#1a1e1b"/>
<ellipse cx="559.6" cy="430.4" rx="3.4" ry="1.7" fill="#3d423e"/>
<rect x="575.7" y="432.1" width="11" height="12" rx="4" fill="#1a1e1b"/>
<ellipse cx="581.2" cy="434.7" rx="3.4" ry="1.7" fill="#3d423e"/>
<rect x="544.1" y="437.8" width="11" height="12" rx="4" fill="#1a1e1b"/>
<ellipse cx="549.6" cy="440.4" rx="3.4" ry="1.7" fill="#3d423e"/>
<rect x="561.3" y="439.3" width="11" height="12" rx="4" fill="#1a1e1b"/>
<ellipse cx="566.8" cy="441.9" rx="3.4" ry="1.7" fill="#3d423e"/>
</g>
</svg>
</body></html>
